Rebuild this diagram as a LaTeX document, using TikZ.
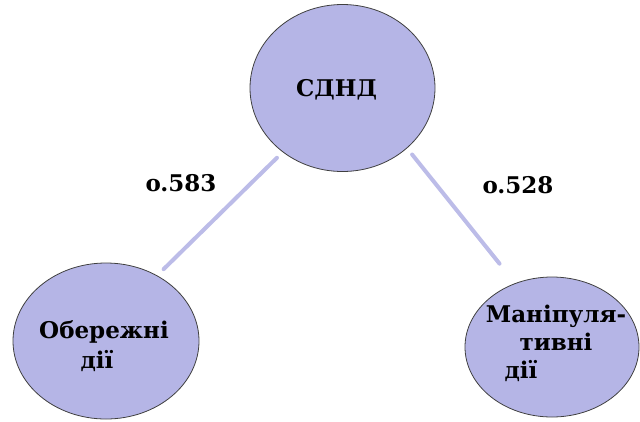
\documentclass[tikz,border=0pt]{standalone}
\usepackage{fontspec}
\setmainfont{DejaVu Serif}
\usetikzlibrary{shapes.geometric}
\definecolor{lav}{RGB}{181,181,230}
\definecolor{lavline}{RGB}{188,188,232}
\begin{document}
\begin{tikzpicture}[x=1pt,y=-1pt,
  bubble/.style={ellipse,draw=black!75,line width=0.8pt,fill=lav,inner sep=0pt},
  txt/.style={font=\bfseries\fontsize{23}{30}\selectfont,align=center,inner sep=0pt},
  link/.style={draw=lavline,line width=4pt,line cap=round}]
\path[use as bounding box] (0,0) rectangle (640,421);
\node[bubble,minimum width=185pt,minimum height=167pt] (top) at (342.5,88) {};
\node[bubble,minimum width=186pt,minimum height=156pt] (left) at (106,341) {};
\node[bubble,minimum width=174pt,minimum height=140pt] (right) at (552,347) {};
\node[txt] (ttop) at (336.5,89.5) {СДНД};
\node[txt] (tleft) at (104,346) {Обережні\\\mbox{дії\hspace{14pt}}};
\node[txt,font=\bfseries\fontsize{23}{28}\selectfont] (tright) at (556,343) {Маніпуля-\\тивні\\\mbox{дії\hspace{70pt}}};
\draw[link,shorten <=8pt,shorten >=9pt] (top.227) -- (left.52);
\draw[link,shorten <=8pt,shorten >=25pt] (top.317) -- (right.120);
\node[txt] (lblL) at (181,183) {o.583};
\node[txt] (lblR) at (518,185) {o.528};
\end{tikzpicture}
\end{document}
